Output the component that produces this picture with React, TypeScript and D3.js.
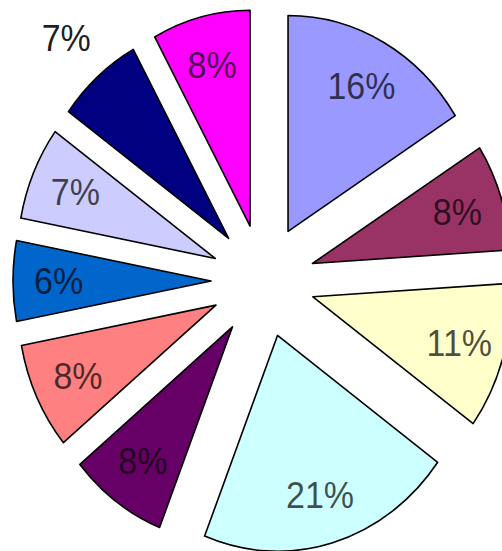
import React from "react";
import * as d3 from "d3";

const labels = ["16%", "8%", "11%", "21%", "8%", "8%", "6%", "7%", "7%", "8%"];
const values = [16, 8, 11, 21, 8, 8, 6, 7, 7, 8];
const colors = ["#9999FF", "#993366", "#FFFFCC", "#CCFFFF", "#660066", "#FF8080", "#0066CC", "#CCCCFF", "#000080", "#FF00FF"];
const labelOutside = [false, false, false, false, false, false, false, false, true, false];

const W = 502;
const H = 551;
const R = 198;
const EXPLODE = 52;
const SY = 1.09;

export default function App() {
  const pie = d3.pie<number>().sort(null).value((d) => d).startAngle(0).endAngle(2 * Math.PI);
  const arcs = pie(values);
  const arcGen = d3.arc<d3.PieArcDatum<number>>().innerRadius(0).outerRadius(R);
  return (
    <svg width={W} height={H} style={{ position: "absolute", left: 0, top: 0, background: "#fff" }}>
      <g transform={`translate(263,281) scale(1,${SY})`}>
        {arcs.map((a, i) => {
          const mid = (a.startAngle + a.endAngle) / 2;
          const ox = EXPLODE * Math.sin(mid);
          const oy = -EXPLODE * Math.cos(mid);
          const lr = labelOutside[i] ? R * 1.24 : R * 0.77;
          const lx = lr * Math.sin(mid);
          const ly = -lr * Math.cos(mid);
          return (
            <g key={i} transform={`translate(${ox},${oy})`}>
              <path d={arcGen(a) || ""} fill={colors[i]} stroke="#000" strokeWidth={1.6} strokeLinejoin="round" vectorEffect="non-scaling-stroke" />
              <text
                x={lx}
                y={ly}
                dy="0.35em"
                textAnchor="middle"
                fontFamily="'Liberation Sans', Arial, sans-serif"
                fontSize={34}
                fill={labelOutside[i] ? "#111" : "#000"}
                fillOpacity={labelOutside[i] ? 0.95 : 0.7}
              >
                {labels[i]}
              </text>
            </g>
          );
        })}
      </g>
    </svg>
  );
}
